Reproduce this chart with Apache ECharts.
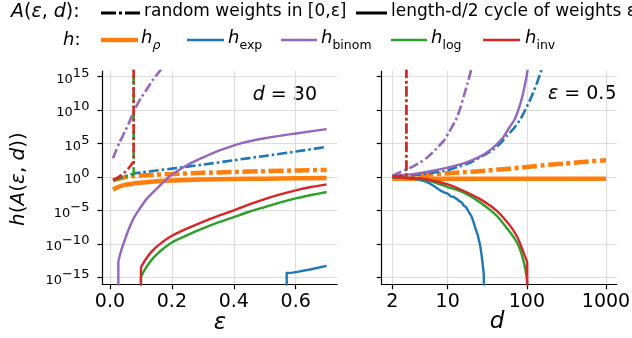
<!DOCTYPE html>
<html>
<head>
<meta charset="utf-8">
<script src="https://cdn.jsdelivr.net/npm/echarts@6/dist/echarts.min.js"></script>
<style>
html, body { margin: 0; padding: 0; background: #fff; }
#chart { width: 632px; height: 338px; }
</style>
</head>
<body>
<div id="chart"></div>
<script>
// y values are log10 h(A(eps, d)); 20 means off the top (infinite), -30 off the bottom
const yTicks = [-15, -10, -5, 0, 5, 10, 15];
const epsTicks = [0, 0.2, 0.4, 0.6];
const dTicks = [2, 10, 100, 1000];
const dMinorTicks = [3, 4, 5, 6, 7, 8, 9, 20, 30, 40, 50, 60, 70, 80, 90, 200, 300, 400, 500, 600, 700, 800, 900];

// left panel: d = 30, x = eps
const epsRhoRandom = [[0.01, -0.5], [0.02, -0.35], [0.03, -0.22], [0.05, -0.02], [0.08, 0.15], [0.1, 0.22], [0.15, 0.35], [0.2, 0.45], [0.3, 0.62], [0.4, 0.75], [0.5, 0.87], [0.6, 0.97], [0.7, 1.05]];
const epsRhoCycle = [[0.01, -1.9], [0.02, -1.65], [0.03, -1.45], [0.05, -1.15], [0.08, -0.95], [0.1, -0.85], [0.15, -0.65], [0.2, -0.52], [0.3, -0.38], [0.4, -0.3], [0.5, -0.25], [0.6, -0.2], [0.7, -0.17]];
const epsExpRandom = [[0.01, -0.5], [0.03, -0.2], [0.05, 0.1], [0.076, 0.5], [0.1, 0.68], [0.15, 0.97], [0.2, 1.25], [0.3, 1.85], [0.4, 2.5], [0.5, 3.15], [0.6, 3.8], [0.7, 4.5]];
const epsExpCycle = [[0.571, -30], [0.571, -14.35], [0.59, -14.3], [0.61, -14.15], [0.65, -13.8], [0.7, -13.3]];
const epsBinomRandom = [[0.01, 2.8], [0.02, 4.0], [0.03, 5.1], [0.04, 6.0], [0.05, 7.0], [0.06, 7.9], [0.075, 9.6], [0.09, 11.0], [0.1, 11.8], [0.12, 13.2], [0.14, 14.6], [0.16, 15.8], [0.18, 17], [0.2, 18.2]];
const epsBinomCycle = [[0.027, -30], [0.027, -12.8], [0.035, -11.2], [0.045, -9.8], [0.06, -7.9], [0.075, -6.3], [0.095, -4.8], [0.12, -3.2], [0.15, -1.8], [0.19, 0], [0.25, 1.8], [0.3, 2.9], [0.35, 3.9], [0.42, 5], [0.5, 5.8], [0.6, 6.5], [0.7, 7.15]];
const epsLogRandom = [[0.01, -0.5], [0.02, -0.35], [0.03, -0.2], [0.04, -0.05], [0.05, 0.05], [0.06, 0.15], [0.07, 0.3], [0.0765, 0.4], [0.0765, 20]];
const epsLogCycle = [[0.1, -30], [0.1, -15.0], [0.105, -14.5], [0.12, -13.3], [0.14, -12.1], [0.162, -11.1], [0.2, -9.8], [0.25, -8.7], [0.3, -7.7], [0.35, -6.8], [0.4, -6.0], [0.45, -5.2], [0.5, -4.5], [0.55, -3.8], [0.6, -3.2], [0.65, -2.7], [0.7, -2.25]];
const epsInvRandom = [[0.01, -0.45], [0.02, -0.25], [0.03, 0.05], [0.04, 0.4], [0.05, 0.8], [0.06, 1.3], [0.07, 1.9], [0.0765, 2.3], [0.0765, 20]];
const epsInvCycle = [[0.1, -30], [0.1, -13.6], [0.105, -13.1], [0.12, -12.0], [0.14, -10.9], [0.162, -10], [0.2, -8.8], [0.25, -7.7], [0.3, -6.7], [0.35, -5.8], [0.4, -5], [0.45, -4.1], [0.5, -3.3], [0.55, -2.6], [0.6, -2.0], [0.65, -1.5], [0.7, -1.1]];

// right panel: eps = 0.5, x = d
const dRhoRandom = [[2, 0.05], [3, 0.15], [5, 0.3], [10, 0.55], [20, 0.8], [30, 0.95], [50, 1.15], [100, 1.5], [200, 1.85], [300, 2.0], [500, 2.25], [1000, 2.5]];
const dRhoCycle = [[2, -0.25], [10, -0.25], [100, -0.25], [1000, -0.25]];
const dExpRandom = [[2, 0], [3, 0.15], [5, 0.45], [9, 0.9], [14, 1.6], [19.4, 2.15], [28, 3.2], [38, 4.15], [47, 5.1], [56, 6.15], [70, 7.4], [83, 8.65], [97, 10.2], [111, 11.65], [123, 12.9], [135, 14.15], [152, 15.9], [165, 17.5]];
const dExpCycle = [[2, 0], [3, -0.15], [4, -0.3], [5, -0.6], [6, -1.0], [7, -1.5], [8, -2.0], [9, -2.3], [10, -2.5], [11, -2.9], [12, -3.0], [13, -3.3], [14, -3.6], [15, -3.8], [16, -4.3], [17, -4.5], [18, -5.0], [19, -5.5], [20, -5.9], [21, -6.6], [22, -7.4], [23, -8.1], [24, -8.7], [25, -9.6], [26, -10.6], [27, -12.0], [28, -13.6], [28.6, -14.6], [28.6, -30]];
const dBinomRandom = [[2, 0.15], [2.5, 0.7], [3.4, 1.4], [4.5, 2.2], [5.5, 2.9], [7, 4.1], [8.9, 5.4], [11, 7.2], [13.1, 8.9], [14.5, 10.4], [16, 12.15], [17.7, 13.9], [19.4, 15.65], [21, 17.5]];
const dBinomCycle = [[2, 0.1], [4, 0.5], [6, 0.85], [10, 1.4], [15, 1.95], [20, 2.5], [25, 3.0], [30, 3.5], [40, 4.7], [50, 5.9], [60, 7.4], [70, 8.6], [80, 10.4], [90, 12.6], [100, 15.3], [105, 17]];
const dLogRandom = [[2, 0], [2.5, 0.1], [3, 0.25], [3, 20]];
const dLogCycle = [[2, 0], [4, -0.25], [6, -0.6], [10, -1.5], [16, -2.35], [26, -3.85], [42, -5.85], [62, -8.35], [75, -9.8], [83, -11.0], [90, -12.4], [96, -13.9], [100, -15.3], [102, -16.5]];
const dInvRandom = [[2, 0.05], [2.5, 0.15], [3, 0.35], [3, 20]];
const dInvCycle = [[2, 0], [4, -0.2], [6, -0.45], [10, -1.1], [16, -2.1], [26, -3.35], [42, -5.1], [62, -7.35], [75, -8.9], [83, -10.1], [92, -11.5], [101, -12.85], [101, -30]];

const C = {
    rho: '#ff7f0e',
    exp: '#1f77b4',
    binom: '#9467bd',
    log: '#2ca02c',
    inv: '#d62728'
};
const FONT = 'DejaVu Sans';
const GRID_C = '#dddddd';

function line(data, panel, color, width, dashed, jagged) {
    const pts = panel === 0 ? data : data.map(p => [Math.log10(p[0]), p[1]]);
    let dash = 'solid';
    if (dashed) {
        dash = width > 3 ? [15, 3.5, 4, 3.5] : [10, 3, 2.5, 3];
    }
    return {
        type: 'line',
        xAxisIndex: panel === 0 ? 0 : 1,
        yAxisIndex: panel,
        data: pts,
        showSymbol: false,
        symbol: 'none',
        silent: true,
        clip: true,
        smooth: jagged ? false : 0.2,
        lineStyle: {color: color, width: width, type: dash, cap: 'butt', join: 'round'}
    };
}

const series = [
    line(epsRhoRandom, 0, C.rho, 4.5, true),
    line(epsRhoCycle, 0, C.rho, 4.5, false),
    line(epsExpRandom, 0, C.exp, 2.6, true),
    line(epsExpCycle, 0, C.exp, 2.4, false, true),
    line(epsBinomRandom, 0, C.binom, 2.6, true),
    line(epsBinomCycle, 0, C.binom, 2.4, false),
    line(epsLogRandom, 0, C.log, 2.6, true, true),
    line(epsLogCycle, 0, C.log, 2.4, false),
    line(epsInvRandom, 0, C.inv, 2.6, true, true),
    line(epsInvCycle, 0, C.inv, 2.4, false),

    line(dRhoRandom, 1, C.rho, 4.5, true),
    line(dRhoCycle, 1, C.rho, 4.5, false, true),
    line(dExpRandom, 1, C.exp, 2.6, true),
    line(dExpCycle, 1, C.exp, 2.4, false, true),
    line(dBinomRandom, 1, C.binom, 2.6, true),
    line(dBinomCycle, 1, C.binom, 2.4, false),
    line(dLogRandom, 1, C.log, 2.6, true, true),
    line(dLogCycle, 1, C.log, 2.4, false),
    line(dInvRandom, 1, C.inv, 2.6, true, true),
    line(dInvCycle, 1, C.inv, 2.4, false)
];

const axisLine = {show: true, onZero: false, lineStyle: {color: '#000', width: 1.2}};
const tickStyle = {color: '#000', width: 1.2};
const splitLine = {show: true, lineStyle: {color: GRID_C, width: 1.2}};

function yAxis(grid, withLabels) {
    return {
        type: 'value',
        gridIndex: grid,
        min: -16.05,
        max: 15.85,
        axisLine: axisLine,
        axisTick: {show: true, length: 5, customValues: yTicks, lineStyle: tickStyle},
        axisLabel: {
            show: withLabels,
            customValues: yTicks,
            margin: 13,
            color: '#000',
            formatter: function (v) {
                const e = Math.round(v);
                const s = e < 0 ? '\u2212' + (-e) : String(e);
                return '{b|10}{s|' + s + '}';
            },
            rich: {
                b: {fontSize: 13, fontFamily: FONT, color: '#000', verticalAlign: 'bottom'},
                s: {fontSize: 13, fontFamily: FONT, color: '#000', verticalAlign: 'bottom', padding: [0, 0, 6, 0]}
            }
        },
        splitLine: splitLine
    };
}

const legendY1 = 12;
const legendY2 = 40;

function legLine(x1, x2, y, color, width, dash) {
    return {
        type: 'line',
        shape: {x1: x1, y1: y, x2: x2, y2: y},
        style: {stroke: color, lineWidth: width, lineDash: dash || null, lineCap: 'butt'}
    };
}

function txt(x, y, text, rich, size) {
    return {
        type: 'text',
        style: {
            x: x, y: y, text: text,
            fill: '#000',
            fontSize: size || 17,
            fontFamily: FONT,
            align: 'left',
            verticalAlign: 'middle',
            rich: rich || {}
        }
    };
}

const richTitle = {
    i: {fontStyle: 'italic', fontSize: 19, fontFamily: FONT, color: '#000'},
    n: {fontSize: 19, fontFamily: FONT, color: '#000'}
};
const richItalic = {
    i: {fontStyle: 'italic', fontSize: 18, fontFamily: FONT, color: '#000'},
    n: {fontSize: 18, fontFamily: FONT, color: '#000'}
};

function hName(sub) {
    return '{h|h}{sub|' + sub + '}';
}
const richH = {
    h: {fontStyle: 'italic', fontSize: 18, fontFamily: FONT, color: '#000', verticalAlign: 'bottom', padding: [0, 0, 5, 0]},
    sub: {fontSize: 12.5, fontFamily: FONT, color: '#000', verticalAlign: 'bottom'},
    subi: {fontStyle: 'italic', fontSize: 12.5, fontFamily: FONT, color: '#000', verticalAlign: 'bottom'}
};

const graphics = [
    // legend row 1
    txt(11, legendY1, '{i|A}{n|(}{i|ε}{n|, }{i|d}{n|):}', richTitle),
    legLine(101, 140, legendY1 + 1, '#000', 3, [15, 3, 3, 3]),
    txt(144, legendY1, 'random weights in [0,ε]', null, 17),
    legLine(356, 387, legendY1 + 1, '#000', 3),
    txt(391, legendY1, 'length-d/2 cycle of weights ε', null, 17),
    // legend row 2
    txt(63, legendY2, '{i|h}{n|:}', richItalic),
    legLine(101, 138, legendY2, C.rho, 4.5),
    txt(141, legendY2 + 1, '{h|h}{subi|ρ}', richH),
    legLine(187, 224, legendY2, C.exp, 2.7),
    txt(228, legendY2 + 1, hName('exp'), richH),
    legLine(281, 317, legendY2, C.binom, 2.7),
    txt(321, legendY2 + 1, hName('binom'), richH),
    legLine(391, 427, legendY2, C.log, 2.7),
    txt(431, legendY2 + 1, hName('log'), richH),
    legLine(483, 520, legendY2, C.inv, 2.7),
    txt(525, legendY2 + 1, hName('inv'), richH),
    // axis titles
    {
        type: 'text',
        x: 18.5, y: 179, rotation: Math.PI / 2,
        style: {
            x: 0, y: 0, text: '{i|h}{n|(}{i|A}{n|(}{i|ε}{n|, }{i|d}{n|))}',
            align: 'center', verticalAlign: 'middle',
            rich: {
                i: {fontStyle: 'italic', fontSize: 20, fontFamily: FONT, color: '#000'},
                n: {fontSize: 20, fontFamily: FONT, color: '#000'}
            }
        }
    },
    {
        type: 'text',
        style: {x: 220, y: 323, text: 'ε', align: 'center', verticalAlign: 'middle',
            fontSize: 23, fontStyle: 'italic', fontFamily: FONT, fill: '#000'}
    },
    {
        type: 'text',
        style: {x: 497, y: 322, text: 'd', align: 'center', verticalAlign: 'middle',
            fontSize: 23, fontStyle: 'italic', fontFamily: FONT, fill: '#000'}
    },
    // panel annotations
    {
        type: 'text',
        style: {
            x: 317, y: 95, text: '{i|d}{n| = 30}', align: 'right', verticalAlign: 'middle',
            rich: {
                i: {fontStyle: 'italic', fontSize: 19, fontFamily: FONT, color: '#000'},
                n: {fontSize: 19, fontFamily: FONT, color: '#000'}
            }
        }
    },
    {
        type: 'text',
        style: {
            x: 548, y: 94, text: '{i|ε}{n| = 0.5}', align: 'left', verticalAlign: 'middle',
            rich: {
                i: {fontStyle: 'italic', fontSize: 19, fontFamily: FONT, color: '#000'},
                n: {fontSize: 19, fontFamily: FONT, color: '#000'}
            }
        }
    }
];

const chart = echarts.init(document.getElementById('chart'), null, {renderer: 'canvas'});

const option = {
    animation: false,
    backgroundColor: '#fff',
    grid: [
        {left: 102.4, top: 71, width: 234.9, height: 213.3, containLabel: false, outerBoundsMode: 'none'},
        {left: 381.7, top: 71, width: 235, height: 213.3, containLabel: false, outerBoundsMode: 'none'}
    ],
    xAxis: [
        {
            type: 'value',
            gridIndex: 0,
            min: -0.0245,
            max: 0.7345,
            axisLine: axisLine,
            axisTick: {show: true, length: 5, customValues: epsTicks, lineStyle: tickStyle},
            axisLabel: {
                customValues: epsTicks,
                margin: 8,
                fontSize: 19,
                fontFamily: FONT,
                color: '#000',
                formatter: v => v.toFixed(1)
            },
            splitLine: splitLine
        },
        {
            type: 'value',
            gridIndex: 1,
            position: 'bottom',
            min: 0.166,
            max: 3.135,
            axisLine: axisLine,
            axisTick: {show: true, length: 5, customValues: dTicks.map(Math.log10), lineStyle: tickStyle},
            axisLabel: {
                customValues: dTicks.map(Math.log10),
                margin: 8,
                fontSize: 19,
                fontFamily: FONT,
                color: '#000',
                formatter: v => String(Math.round(Math.pow(10, v)))
            },
            splitLine: splitLine
        },
        {
            type: 'value',
            gridIndex: 1,
            position: 'bottom',
            min: 0.166,
            max: 3.135,
            axisLine: {show: false},
            axisTick: {show: true, length: 3, customValues: dMinorTicks.map(Math.log10), lineStyle: {color: '#000', width: 1}},
            axisLabel: {show: false},
            splitLine: {show: false}
        }
    ],
    yAxis: [yAxis(0, true), yAxis(1, false)],
    series: series,
    graphic: graphics
};

chart.setOption(option);
</script>
</body>
</html>
